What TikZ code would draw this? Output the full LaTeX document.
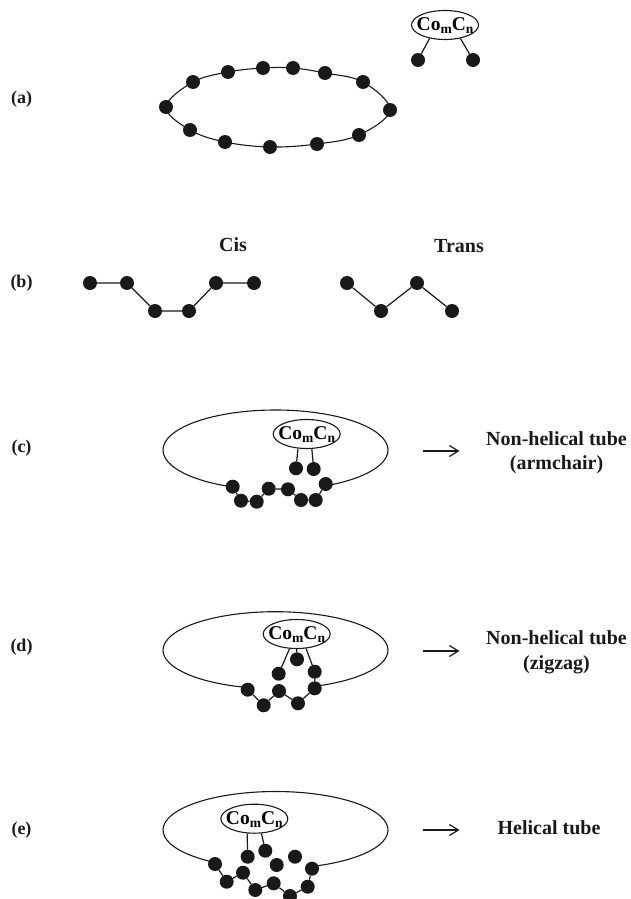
\documentclass[tikz,border=0pt]{standalone}
\usepackage{fontspec}
\setmainfont{Liberation Serif}
\usetikzlibrary{shapes.geometric,arrows.meta}
\newcommand{\comcn}{\raisebox{-5.5pt}[0pt][0pt]{\makebox[0pt][c]{\fontsize{19.5}{19.5}\selectfont\bfseries Co\raisebox{-3pt}{\fontsize{13.5}{13.5}\selectfont m}C\raisebox{-3pt}{\fontsize{13.5}{13.5}\selectfont n}}}}
\tikzset{
  atom/.style={circle,fill=black!90,draw=none,minimum size=14pt,inner sep=0pt},
  bond/.style={draw=black!90,line width=1.2pt},
  ring/.style={draw=black!90,line width=1.1pt},
  catalyst/.style={ellipse,draw=black!90,line width=1.1pt,minimum width=67pt,minimum height=29pt,inner sep=0pt,fill=white},
  lbl/.style={font=\fontsize{20}{20}\selectfont\bfseries,text=black!90,inner sep=0pt},
  rowlbl/.style={font=\fontsize{18}{18}\selectfont\bfseries,text=black!90,inner sep=0pt},
  reaction/.style={draw=black!90,line width=1.4pt,-{Straight Barb[length=9pt,width=11pt,line width=1.2pt]}}
}
\begin{document}
\begin{tikzpicture}[x=1pt,y=1pt,yscale=-1]
\useasboundingbox (0,0) rectangle (631,899);
% row labels
\node[rowlbl] (la) at (21.5,99.5) {(a)};
\node[rowlbl] (lb) at (21.5,283) {(b)};
\node[rowlbl] (lc) at (21.5,448.5) {(c)};
\node[rowlbl] (ld) at (21.5,647.5) {(d)};
\node[rowlbl] (le) at (21.5,830.5) {(e)};
% (a)
\foreach \n/\x/\y in {1/166/107,2/193/82,3/228/72,4/263/68,5/293/68,6/325/73,7/363/82,8/390/110,9/359/135,10/317/144,11/270/147,12/225/142,13/190/130}
  \node[atom] (a\n) at (\x,\y) {};
\draw[ring] plot[smooth cycle,tension=0.6] coordinates {(166,107) (193,82) (228,72) (263,68) (293,68) (325,73) (363,82) (390,110) (359,135) (317,144) (270,147) (225,142) (190,130)};
\node[catalyst] (ea) at (445,25) {\comcn};
\node[atom] (ax) at (418,60) {};
\node[atom] (ay) at (473,60) {};
\draw[bond] (ea.-139) -- (ax);
\draw[bond] (ea.-41) -- (ay);
% (b)
\node[lbl] (cis) at (233,245) {Cis};
\node[lbl] (trans) at (459,246) {Trans};
\foreach \n/\x/\y in {1/90/283,2/127/283,3/155/311,4/189/311,5/216/283,6/254/283}
  \node[atom] (b\n) at (\x,\y) {};
\draw[bond] (b1)--(b2) (b2)--(b3) (b3)--(b4) (b4)--(b5) (b5)--(b6);
\foreach \n/\x/\y in {1/347/283,2/381/311,3/417/283,4/452/311}
  \node[atom] (t\n) at (\x,\y) {};
\draw[bond] (t1)--(t2) (t2)--(t3) (t3)--(t4);
% (c)
\coordinate (cc) at (275.5,450);
\draw[ring] ([shift={(112:112.5 and 40)}]cc) arc[start angle=112,end angle=422,x radius=112.5,y radius=40];
\foreach \n/\x/\y in {1/232.7/486.7,2/241/500.7,3/256.7/501.7,4/268.7/488.7,5/288/489.3,6/301/500,7/315.7/500,8/325.7/484,9/296/468.3,10/313.7/469}
  \node[atom] (c\n) at (\x,\y) {};
\draw[bond] (c1)--(c2) (c2)--(c3) (c3)--(c4) (c4)--(c5) (c5)--(c6) (c6)--(c7) (c7)--(c8);
\node[catalyst] (ec) at (306.7,434) {\comcn};
\draw[bond] (ec.-121.5) -- (c9);
\draw[bond] (ec.-71) -- (c10);
\coordinate (cs) at (423,451);
\coordinate (ce) at (459.5,451);
\draw[reaction] (cs) -- (ce);
\node[lbl] (ct1) at (556.5,439) {Non-helical tube};
\node[lbl] (ct2) at (556.5,465) {(armchair)};
% (d)
\coordinate (dc) at (275.5,650.2);
\draw[ring] ([shift={(106:112.5 and 38.5)}]dc) arc[start angle=106,end angle=432,x radius=112.5,y radius=38.5];
\foreach \n/\x/\y in {1/247.7/689.7,2/263.7/705.3,3/279/691,4/298/703.3,5/314.7/688.3,6/314.7/671.7,7/278.7/673.7,8/297/659.3}
  \node[atom] (d\n) at (\x,\y) {};
\draw[bond] (d1)--(d2) (d2)--(d3) (d3)--(d4) (d4)--(d5) (d5)--(d6);
\node[catalyst] (ed) at (296.7,634) {\comcn};
\draw[bond] (ed.-116.7) -- (d7);
\draw[bond] (ed.-90) -- (d8);
\draw[bond] (ed.-57.7) -- (d6);
\coordinate (ds) at (423,651);
\coordinate (de) at (459.5,651);
\draw[reaction] (ds) -- (de);
\node[lbl] (dt1) at (556.5,638) {Non-helical tube};
\node[lbl] (dt2) at (556.5,665) {(zigzag)};
% (e)
\coordinate (fc) at (275.5,830);
\draw[ring] ([shift={(125:112.5 and 38.5)}]fc) arc[start angle=125,end angle=428,x radius=112.5,y radius=38.5];
\foreach \n/\x/\y in {1/215/864,2/226.7/881.7,3/243/872.7,4/255.3/890,5/273.7/883.3,6/290/896,7/307.7/886.7,8/312/868.7,9/276.7/865,10/295/856.7,11/247.7/856.7,12/265.3/850.7}
  \node[atom] (f\n) at (\x,\y) {};
\draw[bond] (f1)--(f2) (f2)--(f3) (f3)--(f4) (f4)--(f5) (f5)--(f6) (f6)--(f7) (f7)--(f8);
\node[catalyst] (ef) at (254.3,818.7) {\comcn};
\draw[bond] (ef.-116) -- (f11);
\draw[bond] (ef.-64) -- (f12);
\coordinate (fs) at (423,830);
\coordinate (fe) at (459.5,830);
\draw[reaction] (fs) -- (fe);
\node[lbl] (ft) at (549,828) {Helical tube};
\end{tikzpicture}
\end{document}
